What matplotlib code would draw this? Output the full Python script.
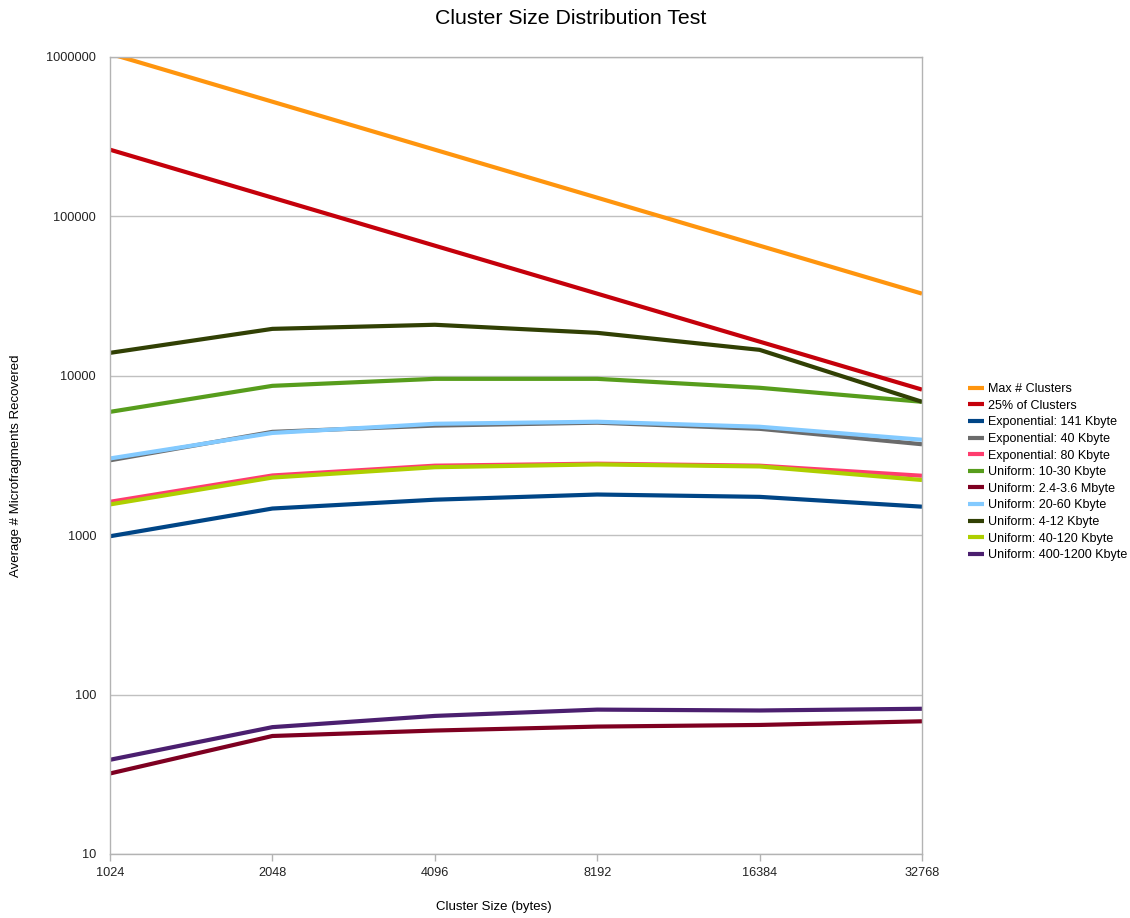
import matplotlib
matplotlib.use("Agg")
import matplotlib.pyplot as plt
from matplotlib.ticker import FixedLocator, NullLocator, FuncFormatter

plt.rcParams["font.family"] = ["Liberation Sans", "DejaVu Sans"]

cluster_sizes = ["1024", "2048", "4096", "8192", "16384", "32768"]

max_clusters = [1048576, 524288, 262144, 131072, 65536, 32768]
quarter_clusters = [262144, 131072, 65536, 32768, 16384, 8192]
exp_141k = [985, 1470, 1670, 1800, 1740, 1510]
exp_40k = [2950, 4450, 4870, 5080, 4650, 3720]
exp_80k = [1620, 2370, 2730, 2810, 2730, 2360]
uni_10_30k = [5940, 8650, 9570, 9570, 8410, 6870]
uni_2_4_3_6m = [32, 55, 59.5, 63, 64.5, 68]
uni_20_60k = [3030, 4380, 5000, 5150, 4790, 3970]
uni_4_12k = [13930, 19700, 20900, 18600, 14550, 6870]
uni_40_120k = [1560, 2300, 2670, 2780, 2700, 2220]
uni_400_1200k = [39, 62.5, 73.5, 80.5, 79.5, 81.5]

series = [
    ("Max # Clusters", max_clusters, "#ff950e"),
    ("25% of Clusters", quarter_clusters, "#c5000b"),
    ("Exponential: 141 Kbyte", exp_141k, "#004586"),
    ("Exponential: 40 Kbyte", exp_40k, "#6b6b6b"),
    ("Exponential: 80 Kbyte", exp_80k, "#ff3d6e"),
    ("Uniform: 10-30 Kbyte", uni_10_30k, "#579d1c"),
    ("Uniform: 2.4-3.6 Mbyte", uni_2_4_3_6m, "#7e0021"),
    ("Uniform: 20-60 Kbyte", uni_20_60k, "#83caff"),
    ("Uniform: 4-12 Kbyte", uni_4_12k, "#314004"),
    ("Uniform: 40-120 Kbyte", uni_40_120k, "#aecf00"),
    ("Uniform: 400-1200 Kbyte", uni_400_1200k, "#4b1f6f"),
]

fig = plt.figure(figsize=(11.3, 9.18), dpi=100)
ax = fig.add_axes([110 / 1130, 64 / 918, 812 / 1130, 797 / 918])

x = list(range(len(cluster_sizes)))
for label, vals, color in series:
    ax.plot(x, vals, color=color, lw=3, label=label, solid_joinstyle="miter",
            solid_capstyle="butt")

ax.set_yscale("log")
ax.set_ylim(10, 1_000_000)
ax.set_xlim(0, len(cluster_sizes) - 1)

ax.yaxis.set_major_locator(FixedLocator([10, 100, 1000, 10000, 100000, 1000000]))
ax.yaxis.set_minor_locator(NullLocator())
ax.yaxis.set_major_formatter(FuncFormatter(lambda v, p: f"{int(round(v))}"))
ax.set_xticks(x)
ax.set_xticklabels(cluster_sizes)

ax.grid(axis="y", color="#c0c0c0", lw=1)
ax.set_axisbelow(True)
for s in ax.spines.values():
    s.set_color("#b3b3b3")
    s.set_linewidth(1)

ax.tick_params(axis="y", length=0, pad=10, labelsize=9.2, colors="#222222")
ax.tick_params(axis="x", length=5, width=1, color="#b3b3b3", pad=4,
               labelsize=9.2, labelcolor="#222222", direction="out")

fig.text(571 / 1130, 1 - 18 / 918, "Cluster Size Distribution Test",
         fontsize=15.3, ha="center", va="center")
ax.set_xlabel("Cluster Size (bytes)", fontsize=9.5)
ax.set_ylabel("Average # Microfragments Recovered", fontsize=9.5)
ax.xaxis.set_label_coords((494 - 110) / 812, -53 / 797)
ax.yaxis.set_label_coords(-94 / 812, (854 - 466) / 797)
ax.xaxis.label.set_va("center")
ax.yaxis.label.set_va("center")

leg = fig.legend(loc="upper left", bbox_to_anchor=(968 / 1130, 1 - 383 / 918),
                 frameon=False, fontsize=9.0, handlelength=1.3, handletextpad=0.3,
                 labelspacing=0.37, borderaxespad=0, borderpad=0)

fig.savefig("out.png", dpi=100)
